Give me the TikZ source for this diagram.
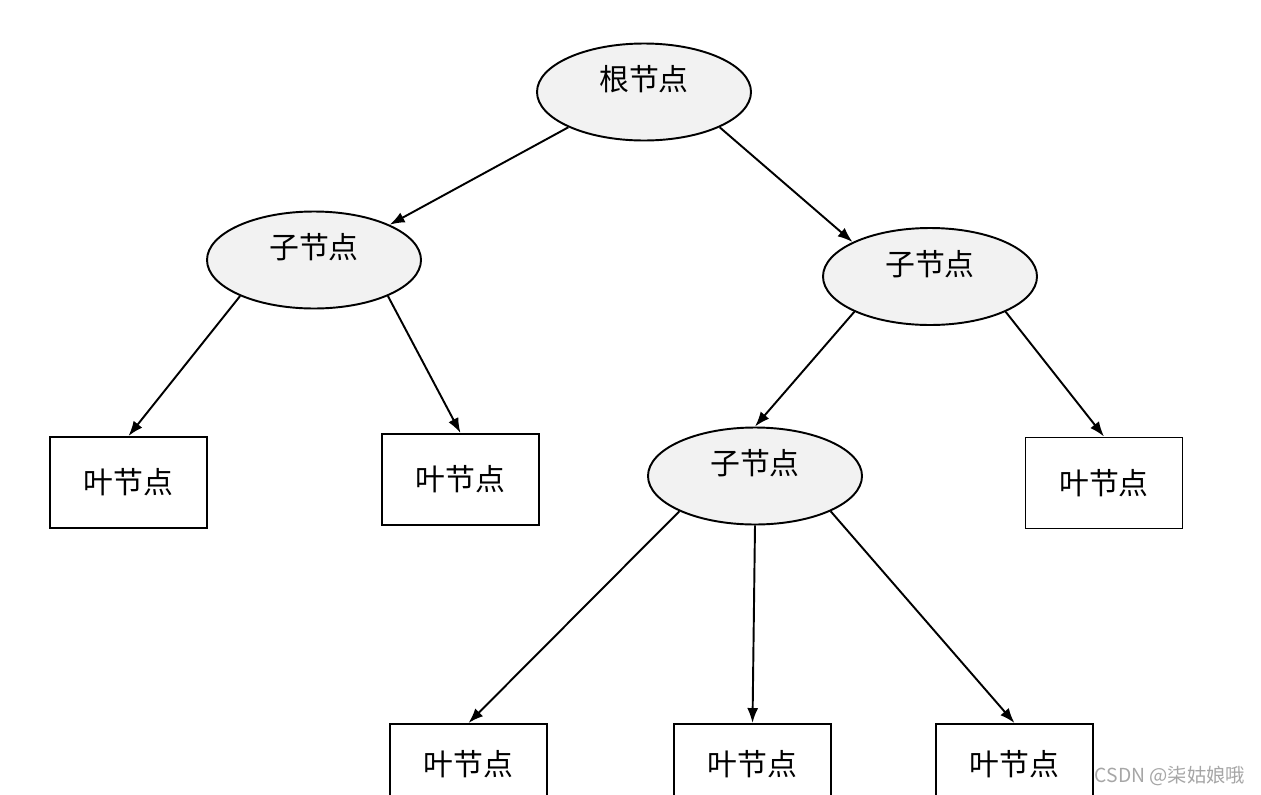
\documentclass[tikz,border=0pt]{standalone}
\usepackage{fontspec}
\setmainfont{Noto Sans CJK SC}
\usetikzlibrary{shapes.geometric, arrows.meta}

\tikzset{
  treenode/.style={ellipse, draw, line width=1.1pt, fill=gray!10, inner sep=0pt,
    minimum width=4.28cm, minimum height=1.94cm,
    text height=0.2cm, text depth=0.26cm, font=\fontsize{17}{19}\selectfont},
  leafbox/.style={rectangle, draw, line width=1.1pt, inner sep=0pt,
    minimum width=3.14cm, minimum height=1.82cm, font=\fontsize{17}{19}\selectfont},
  edge/.style={line width=1.1pt, -{Latex[length=0.3cm, width=0.22cm]}}
}

\begin{document}
\begin{tikzpicture}

  \useasboundingbox (0,0) rectangle (25.22,-15.90);

  % -- Inner nodes --
  \node[treenode] (root) at (12.88, -1.84) {根节点};
  \node[treenode] (left) at (6.28, -5.20) {子节点};
  \node[treenode] (right) at (18.60, -5.53) {子节点};
  \node[treenode] (inner) at (15.10, -9.52) {子节点};

  % -- Leaves --
  \node[leafbox] (leafA) at (2.57, -9.65) {叶节点};
  \node[leafbox] (leafB) at (9.21, -9.59) {叶节点};
  \node[leafbox] (leafC) at (22.08, -9.66) {叶节点};
  \node[leafbox, minimum height=1.6cm] (leafD) at (9.37, -15.28) {叶节点};
  \node[leafbox, minimum height=1.6cm] (leafE) at (15.05, -15.28) {叶节点};
  \node[leafbox, minimum height=1.6cm] (leafF) at (20.29, -15.28) {叶节点};

  % -- Edges --
  \draw[edge] (root.205) -- (left.25);
  \draw[edge] (root.335) -- (right.156);
  \draw[edge] (left.206) -- (leafA.north);
  \draw[edge] (left.334) -- (leafB.north);
  \draw[edge] (right.205) -- (inner.north);
  \draw[edge] (right.335) -- (leafC.north);
  \draw[edge] (inner.205) -- (leafD.north);
  \draw[edge] (inner.south) -- (leafE.north);
  \draw[edge] (inner.335) -- (leafF.north);

  % Watermark
  \node[text=gray!70, font=\fontsize{11}{13}\selectfont] (mark) at (23.40, -15.52) {CSDN @柒姑娘哦};

\end{tikzpicture}
\end{document}
